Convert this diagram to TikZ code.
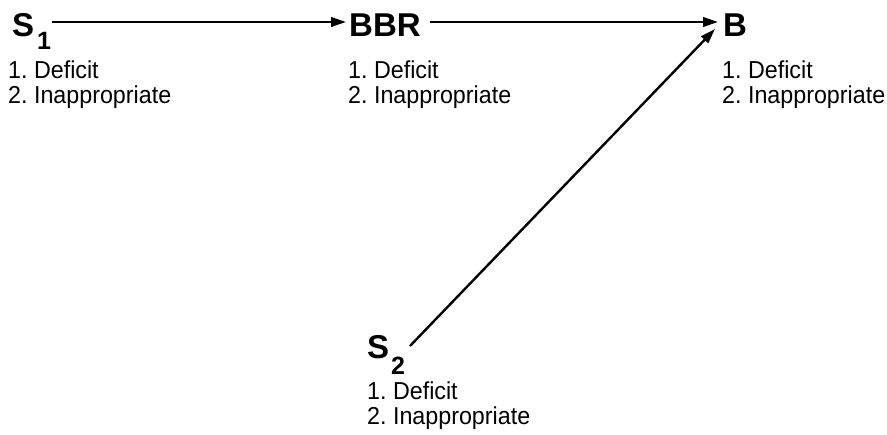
\documentclass[tikz,border=0pt]{standalone}
\usepackage{fontspec}
\setmainfont{Liberation Sans}
\newfontfamily\narrowfont[FakeStretch=0.95]{Liberation Sans}
\usetikzlibrary{arrows.meta}
\begin{document}
\frenchspacing
\begin{tikzpicture}[x=1pt,y=-1pt,
  big/.style={font=\fontsize{33}{33}\selectfont\bfseries, inner sep=0pt, anchor=base west},
  sub/.style={font=\fontsize{25}{25}\selectfont\bfseries, inner sep=0pt, anchor=base west},
  lst/.style={font=\narrowfont\fontsize{24.5}{24.5}\selectfont, inner sep=0pt, anchor=north west, align=left},
  arr/.style={-{Triangle[length=15pt,width=9.5pt]}, line width=2.4pt}]
\useasboundingbox (0,0) rectangle (887,435);
% titles
\node[big] (s1) at (12,37) {S};
\node[sub] (s1sub) at (37,50) {1};
\node[big] (bbr) at (349,37) {BBR};
\node[big] (b) at (723,37) {B};
\node[big] (s2) at (367,359) {S};
\node[sub] (s2sub) at (391,375) {2};
% lists
\node[lst] (l1) at (8,61) {1. Deficit\\2. Inappropriate};
\node[lst] (l2) at (348,61) {1. Deficit\\2. Inappropriate};
\node[lst] (l3) at (722,61) {1. Deficit\\2. Inappropriate};
\node[lst] (l4) at (367,382) {1. Deficit\\2. Inappropriate};
% connectors
\coordinate (a1) at (52,22);
\coordinate (a2) at (346,22);
\coordinate (a3) at (430,22);
\coordinate (a4) at (718,22);
\coordinate (a5) at (410,346);
\coordinate (a6) at (715,29);
\draw[arr] (a1) -- (a2);
\draw[arr] (a3) -- (a4);
\draw[arr] (a5) -- (a6);
\end{tikzpicture}
\end{document}
